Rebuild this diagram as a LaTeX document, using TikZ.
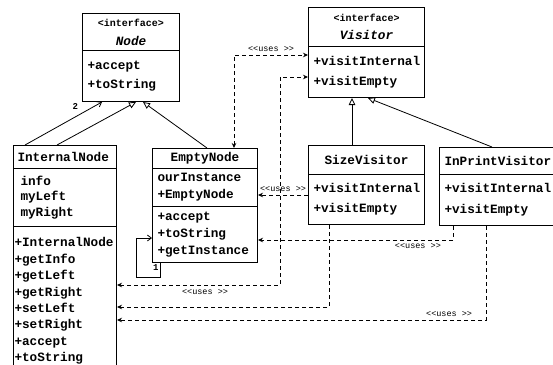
\documentclass[tikz,border=0pt]{standalone}
\usepackage{fontspec}
\setmonofont{Liberation Mono}
\usetikzlibrary{positioning, shapes.multipart, arrows.meta}

% one compartment of a class box: width, height, indent, line distance, lines
\newcommand{\members}[5]{\parbox[c][#2][c]{#1}{\raggedright\leftskip=#3\relax
    \fontsize{12.7bp}{#4}\selectfont #5}}
% centred compartment: width, height, lines
\newcommand{\heading}[3]{\parbox[c][#2][c]{#1}{\centering
    \fontsize{12.7bp}{15bp}\selectfont #3}}
\newcommand{\stereo}{{\fontsize{10bp}{12bp}\selectfont <interface>}}

\begin{document}
\begin{tikzpicture}[
        x=1bp, y=-1bp,
        umlclass/.style={rectangle split, rectangle split parts=#1, draw, line width=1bp,
            inner sep=0pt, anchor=north west, font=\ttfamily\bfseries},
        umlclass/.default=2,
        generalize/.style={line width=0.8bp, -{Triangle[open, length=7bp, width=6.5bp]}},
        assoc/.style={line width=0.8bp, -{Straight Barb[length=4bp, width=6bp]}},
        uses/.style={line width=0.8bp, dash pattern=on 4bp off 3bp,
            >={Stealth[length=5bp, width=4.5bp]}},
        usesnote/.style={font=\ttfamily\fontsize{8.5bp}{10bp}\selectfont, inner sep=1bp},
        mult/.style={font=\ttfamily\bfseries\fontsize{9bp}{10bp}\selectfont, inner sep=1bp},
    ]
    \useasboundingbox (0,0) rectangle (553,364);

    % interfaces
    \node[umlclass] (node) at (82,13) {\heading{97bp}{36bp}{\stereo\\[4bp]\textit{Node}}
        \nodepart{two}\members{97bp}{50bp}{5bp}{19bp}{+accept\\+toString}};
    \node[umlclass] (visitor) at (308,7) {\heading{116bp}{38bp}{\stereo\\[3bp]\textit{Visitor}}
        \nodepart{two}\members{116bp}{50bp}{5bp}{20bp}{+visitInternal\\+visitEmpty}};

    % tree nodes
    \node[umlclass=3] (internal) at (13,145) {\members{103bp}{22bp}{4bp}{15bp}{InternalNode}
        \nodepart{two}\members{103bp}{57bp}{7bp}{15.5bp}{info\\myLeft\\myRight}
        \nodepart{three}\members{103bp}{148bp}{1bp}{16.4bp}{+InternalNode\\+getInfo\\+getLeft\\+getRight\\+setLeft\\+setRight\\+accept\\+toString}};
    \node[umlclass=3] (empty) at (152,148) {\heading{105bp}{19bp}{EmptyNode}
        \nodepart{two}\members{105bp}{37bp}{5bp}{17bp}{ourInstance\\+EmptyNode}
        \nodepart{three}\members{105bp}{55bp}{5bp}{17bp}{+accept\\+toString\\+getInstance}};

    % visitors
    \node[umlclass] (sizevis) at (308,145) {\heading{116bp}{28bp}{SizeVisitor}
        \nodepart{two}\members{116bp}{49bp}{5bp}{20bp}{+visitInternal\\+visitEmpty}};
    \node[umlclass] (printvis) at (439,147) {\members{120bp}{26bp}{5bp}{15bp}{InPrintVisitor}
        \nodepart{two}\members{120bp}{50bp}{5bp}{21bp}{+visitInternal\\+visitEmpty}};

    % inheritance
    \draw[generalize] ([xshift=44bp]internal.north west) -- ([xshift=54bp]node.south west);
    \draw[generalize] ([xshift=55bp]empty.north west) -- ([xshift=61bp]node.south west);
    \draw[generalize] ([xshift=44bp]sizevis.north west) -- ([xshift=44bp]visitor.south west);
    \draw[generalize] ([xshift=53bp]printvis.north west) -- ([xshift=60bp]visitor.south west);

    % children and singleton
    \draw[assoc] ([xshift=12bp]internal.north west) -- ([xshift=20bp]node.south west)
        node[mult, pos=0.9, left=15bp] {2};
    \draw[assoc] ([xshift=8bp]empty.south west) node[mult, below left=0bp] {1}
        -- ++(0,14) -- ++(-24,0) |- (empty.west |- 0,238);

    % dependencies
    \draw[uses, <->] ([xshift=82bp]empty.north west) |- (visitor.west |- 0,55)
        node[usesnote, pos=0.75, above=2bp] {<<uses >>};
    \draw[uses, <->] (internal.east |- 0,285) -| (280,77)
        node[usesnote, pos=0.27, below=3bp] {<<uses >>} -- (visitor.west |- 0,77);
    \draw[uses, ->] (sizevis.west |- 0,195) -- (empty.east |- 0,195)
        node[usesnote, midway, above=2bp] {<<uses >>};
    \draw[uses, ->] ([xshift=14bp]printvis.south west) |- (empty.east |- 0,240)
        node[usesnote, pos=0.59, below=2bp] {<<uses >>};
    \draw[uses, ->] ([xshift=21bp]sizevis.south west) |- (internal.east |- 0,307);
    \draw[uses, ->] ([xshift=47bp]printvis.south west) |- (internal.east |- 0,320)
        node[usesnote, pos=0.55, above=2bp] {<<uses >>};
\end{tikzpicture}
\end{document}
